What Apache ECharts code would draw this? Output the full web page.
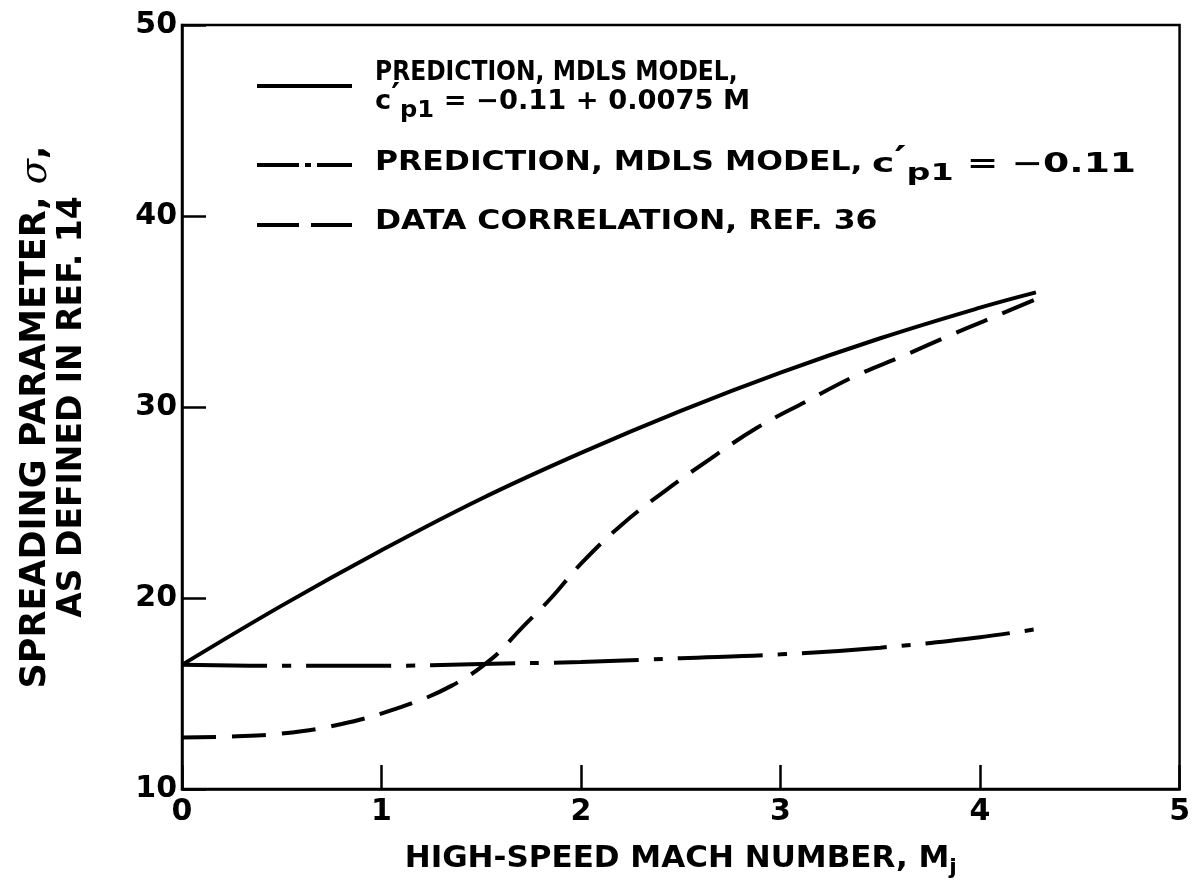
<!DOCTYPE html>
<html>
<head>
<meta charset="utf-8">
<script src="https://cdn.jsdelivr.net/npm/echarts@6/dist/echarts.min.js"></script>
<style>
	body{margin:0;background:#fff}
	#chart{width:1193px;height:885px}
</style>
</head>
<body>
<div id="chart"></div>
<script type="text/javascript">
	// values: [mach number, sigma]
	var mdlsVarying = [[0,16.5],[0.5,19.6],[1.0,22.5],[1.5,25.2],[2.0,27.6],[2.5,29.8],[3.0,31.8],[3.5,33.6],[4.0,35.2],[4.28,36.0]];
	var mdlsConst = [[0,16.5],[0.5,16.45],[1.0,16.45],[1.5,16.55],[2.0,16.65],[2.5,16.85],[3.0,17.05],[3.5,17.4],[4.0,17.95],[4.33,18.45]];
	var dataCorr = [[0,12.7],[0.25,12.75],[0.5,12.9],[0.8,13.4],[1.1,14.3],[1.35,15.4],[1.55,16.8],[1.7,18.4],[1.85,20.0],[2.0,21.8],[2.2,23.8],[2.42,25.6],[2.65,27.3],[2.88,28.9],[3.13,30.3],[3.37,31.6],[3.62,32.7],[3.86,33.8],[4.02,34.5],[4.27,35.6]];
	var xTicks = [0,1,2,3,4,5];
	var yTicks = [10,20,30,40,50];

	var font = 'DejaVu Sans';
	var ink = '#000';

	function richSet(size){
		return {
			a:{fontFamily:font,fontWeight:'bold',fontSize:size,lineHeight:size+16,fill:ink},
			sup:{fontFamily:font,fontWeight:'bold',fontSize:size+6,lineHeight:size+6,verticalAlign:'top',fill:ink},
			sub:{fontFamily:font,fontWeight:'bold',fontSize:size-3,lineHeight:size-3,verticalAlign:'bottom',fill:ink}
		};
	}
	function plain(text,size){
		return {text:text,fontFamily:font,fontWeight:'bold',fontSize:size,fill:ink,verticalAlign:'middle'};
	}

	var option = {
		backgroundColor:'#fff',
		animation:false,
		grid:{left:182,right:9,top:25,bottom:96,show:true,borderColor:ink,borderWidth:2.5},
		xAxis:{
			type:'value',min:0,max:5,interval:1,
			name:'{a|HIGH-SPEED MACH NUMBER, M}{s|j}',
			nameLocation:'middle',nameGap:50,
			nameTextStyle:{rich:{
				a:{fontFamily:font,fontWeight:'bold',fontSize:31,color:ink,lineHeight:40},
				s:{fontFamily:font,fontWeight:'bold',fontSize:22,color:ink,lineHeight:22,verticalAlign:'bottom'}
			}},
			axisLine:{lineStyle:{color:ink,width:2.5}},
			axisTick:{inside:true,length:24,lineStyle:{color:ink,width:2.5}},
			axisLabel:{margin:8,fontFamily:font,fontWeight:'bold',fontSize:30,color:ink,
				formatter:function(v){return xTicks.indexOf(v)>=0?String(v):'';}},
			splitLine:{show:false}
		},
		yAxis:{
			type:'value',min:10,max:50,interval:10,
			name:'{b|SPREADING PARAMETER, }{s|σ}{b|,}{g| }\n{a|AS DEFINED IN REF. 14}',
			nameLocation:'middle',nameRotate:90,nameGap:92,
			nameTextStyle:{align:'center',rich:{
				a:{fontFamily:font,fontWeight:'bold',fontSize:33,color:ink,lineHeight:36,align:'center'},
				b:{fontFamily:font,fontWeight:'bold',fontSize:35,color:ink,lineHeight:36},
				s:{fontFamily:'DejaVu Serif',fontStyle:'italic',fontSize:37,color:ink,lineHeight:36},
				g:{width:20,lineHeight:36}
			}},
			axisLine:{lineStyle:{color:ink,width:2.5}},
			axisTick:{inside:true,length:24,lineStyle:{color:ink,width:2.5}},
			axisLabel:{margin:5,fontFamily:font,fontWeight:'bold',fontSize:30,color:ink,
				formatter:function(v){return yTicks.indexOf(v)>=0?String(v):'';}},
			splitLine:{show:false}
		},
		graphic:[
			{type:'line',shape:{x1:257,y1:86,x2:352,y2:86},style:{stroke:ink,lineWidth:4}},
			{type:'line',shape:{x1:257,y1:165,x2:352,y2:165},style:{stroke:ink,lineWidth:4,lineDash:[42,6,6,6]}},
			{type:'line',shape:{x1:257,y1:225,x2:352,y2:225},style:{stroke:ink,lineWidth:4,lineDash:[42,12]}},
			{type:'text',x:375,y:73,scaleX:0.9,style:plain('PREDICTION, MDLS MODEL,',26)},
			{type:'text',x:375,y:102,scaleX:1.05,style:{text:'{a|c}{sup|′}{sub|p1}{a| = −0.11 + 0.0075 M}',rich:richSet(26),verticalAlign:'middle'}},
			{type:'text',x:375,y:163,scaleX:1.21,style:plain('PREDICTION, MDLS MODEL,',26)},
			{type:'text',x:872,y:165,scaleX:1.45,style:{text:'{a|c}{sup|′}{sub|p1}{a| = −0.11}',rich:richSet(26),verticalAlign:'middle'}},
			{type:'text',x:375,y:222,scaleX:1.21,style:plain('DATA CORRELATION, REF. 36',26)}
		],
		series:[
			{name:'mdls varying',type:'line',data:mdlsVarying,smooth:0.4,showSymbol:false,
				lineStyle:{color:ink,width:4}},
			{name:'mdls constant',type:'line',data:mdlsConst,smooth:0.4,showSymbol:false,
				lineStyle:{color:ink,width:4,type:[85,15,9,15]}},
			{name:'data correlation',type:'line',data:dataCorr,smooth:0.4,showSymbol:false,
				lineStyle:{color:ink,width:4,type:[34,16]}}
		]
	};

	var myChart = echarts.init(document.getElementById('chart'));
	myChart.setOption(option);
</script>
</body>
</html>
